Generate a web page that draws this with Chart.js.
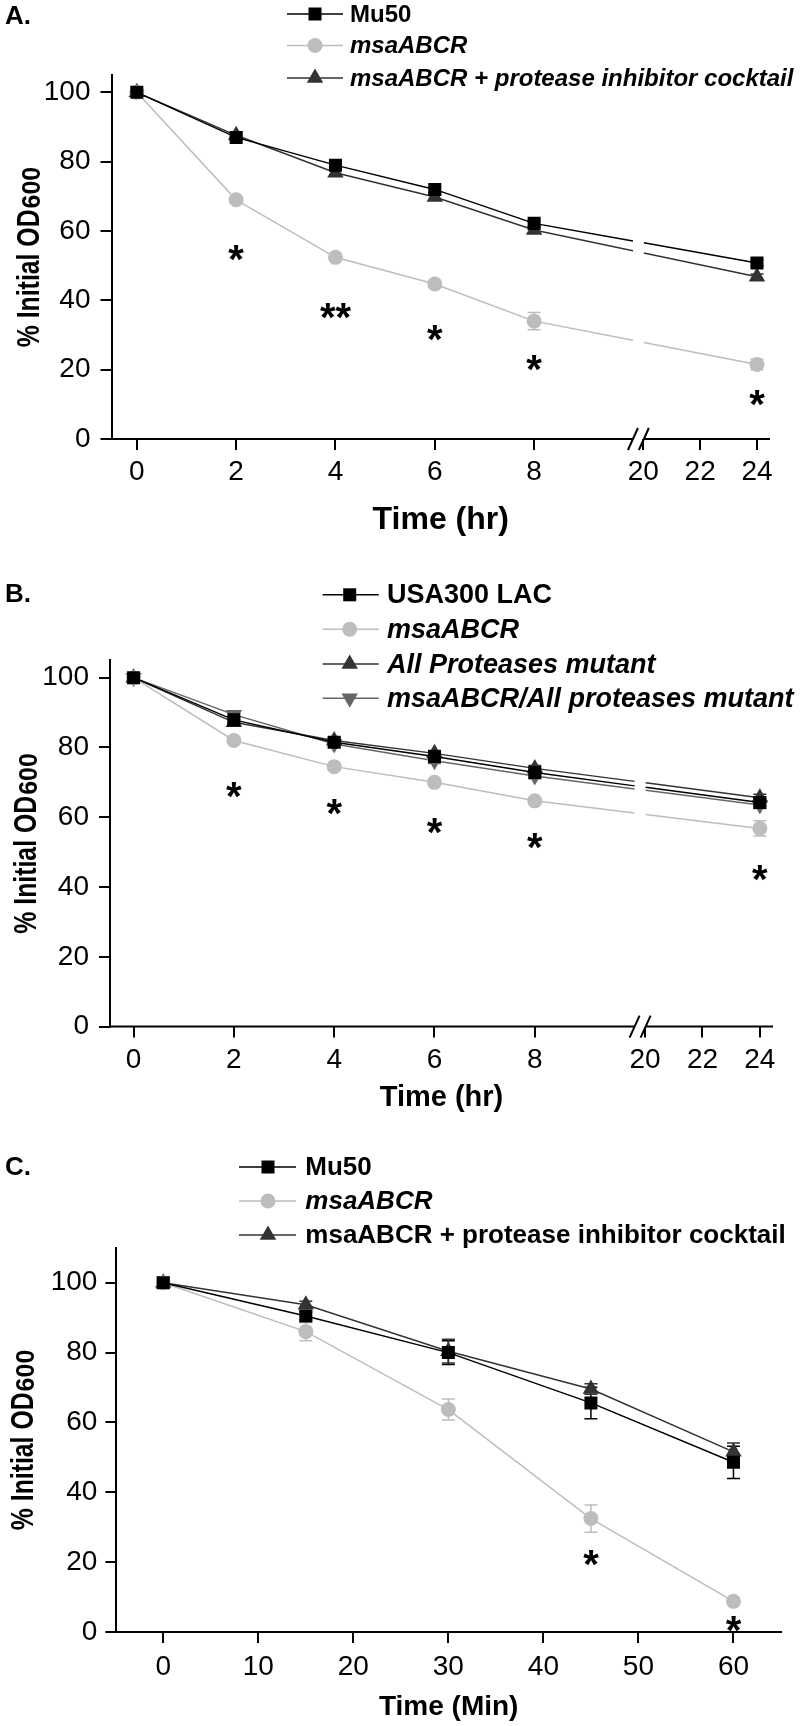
<!DOCTYPE html>
<html>
<head>
<meta charset="utf-8">
<title>% Initial OD600 over time</title>
<script src="https://cdn.jsdelivr.net/npm/chart.js@4.4.1/dist/chart.umd.min.js"></script>
<style>
  html, body { margin: 0; padding: 0; background: #ffffff; }
  body { width: 800px; height: 1726px; position: relative; overflow: hidden; }
  .panel { position: absolute; left: 0; width: 800px; }
  .panel canvas { display: block; }
</style>
</head>
<body>
<div class="panel" style="top:0px;height:560px"><canvas id="chartA"></canvas></div>
<div class="panel" style="top:560px;height:580px"><canvas id="chartB"></canvas></div>
<div class="panel" style="top:1140px;height:586px"><canvas id="chartC"></canvas></div>
<script>
// ================= DATA =================
// Panel A : Mu50 background, time in hours
const hoursA = [0, 2, 4, 6, 8, 24];
const tickHoursA = [0, 2, 4, 6, 8, 20, 22, 24];
const yTicksA = [0, 20, 40, 60, 80, 100];
const seriesNamesA = ['Mu50', 'msaABCR', 'msaABCR + protease inhibitor cocktail'];
const mu50A = [100, 87, 79, 72, 62.2, 50.8];
const mu50AErr = [0.6, 0.8, 0.8, 0.8, 0.8, 0.8];
const msaA = [100, 69, 52.4, 44.7, 34, 21.5];
const msaAErr = [0.6, 0.8, 0.8, 1, 2.5, 1.5];
const msaInhA = [100, 87.6, 76.8, 69.8, 60.3, 46.8];
const msaInhAErr = [0.6, 0.8, 0.8, 0.8, 0.8, 0.8];
const sigHoursA = [2, 4, 6, 8, 24];
const sigValuesA = [53.7, 37, 30.5, 21.8, 11.9];
const sigLabelsA = ['*', '**', '*', '*', '*'];

// Panel B : USA300 LAC background, time in hours
const hoursB = [0, 2, 4, 6, 8, 24];
const tickHoursB = [0, 2, 4, 6, 8, 20, 22, 24];
const yTicksB = [0, 20, 40, 60, 80, 100];
const seriesNamesB = ['USA300 LAC', 'msaABCR', 'All Proteases mutant', 'msaABCR/All proteases mutant'];
const usaB = [100, 87.9, 81.5, 77.4, 72.8, 64.2];
const usaBErr = [0.6, 0.8, 0.8, 0.8, 0.8, 1];
const msaB = [100, 82, 74.5, 70, 64.7, 56.8];
const msaBErr = [0.6, 1, 0.8, 0.8, 0.8, 2.2];
const allProtB = [100, 87.2, 82, 78.3, 74, 65.6];
const allProtBErr = [0.6, 0.8, 0.8, 0.8, 0.8, 1];
const msaAllProtB = [100, 89.4, 81, 76.2, 71.8, 63.5];
const msaAllProtBErr = [0.6, 0.8, 0.8, 0.8, 0.8, 1];
const sigHoursB = [2, 4, 6, 8, 24];
const sigValuesB = [67.9, 62.8, 57.6, 53.2, 44];
const sigLabelsB = ['*', '*', '*', '*', '*'];

// Panel C : Mu50 background, time in minutes
const minutesC = [0, 15, 30, 45, 60];
const xTicksC = [0, 10, 20, 30, 40, 50, 60];
const yTicksC = [0, 20, 40, 60, 80, 100];
const seriesNamesC = ['Mu50', 'msaABCR', 'msaABCR + protease inhibitor cocktail'];
const mu50C = [100, 90.5, 80, 65.6, 48.6];
const mu50CErr = [1.5, 1.2, 3.4, 4.5, 4.6];
const msaC = [100, 86, 63.7, 32.5, 8.8];
const msaCErr = [1, 2.6, 3, 3.9, 1];
const msaInhC = [100, 93.7, 80.4, 69.6, 51.6];
const msaInhCErr = [1, 1, 3.4, 1.5, 2.5];
const sigMinutesC = [45, 60];
const sigValuesC = [21.3, 2.2];
const sigLabelsC = ['*', '*'];

// ================= HELPERS =================
const FONT = '"Liberation Sans", Arial, Helvetica, sans-serif';
Chart.defaults.font.family = FONT;
Chart.defaults.color = '#000';

const BLACK = '#000000', LIGHT = '#bdbdbd', DARK = '#333333', MID = '#666666';

// broken hour axis: 0-8 h at full scale, 20-24 h compressed after the break
function hourToAxis(h) { return h <= 8 ? h : 10.2 + (h - 20) * 0.572; }
const HOUR_BREAK = [9.99, 10.21];

function gapDash(gap, xs) {
  return (ctx) => {
    const chart = ctx.chart;
    if (!chart || !ctx.p0 || !ctx.p1) return [];
    const a = xs[ctx.p0DataIndex], b = xs[ctx.p1DataIndex];
    if (!(a < gap[0] && b > gap[1])) return [];
    const p0 = ctx.p0, p1 = ctx.p1;
    const dx = p1.x - p0.x, dy = p1.y - p0.y;
    const len = Math.hypot(dx, dy);
    const sx = chart.scales.x;
    const g0 = (sx.getPixelForValue(gap[0]) - p0.x) / dx * len;
    const g1 = (sx.getPixelForValue(gap[1]) - p0.x) / dx * len;
    return [g0, g1 - g0, len + 20];
  };
}

function makeSeries(label, xs, ys, errs, st, gap) {
  const ds = {
    label: label,
    data: xs.map((x, i) => ({ x: x, y: ys[i] })),
    errors: errs,
    borderColor: st.line,
    backgroundColor: st.fill,
    pointBackgroundColor: st.fill,
    pointBorderColor: st.fill,
    pointBorderWidth: 0,
    pointStyle: st.shape,
    pointRotation: st.rotation || 0,
    pointRadius: st.radius,
    pointHoverRadius: st.radius,
    borderWidth: st.width,
    tension: 0,
    fill: false,
    legendItalic: st.italic
  };
  if (gap) ds.segment = { borderDash: gapDash(gap, xs) };
  return ds;
}

const errorBarPlugin = {
  id: 'errorBars',
  beforeDatasetsDraw(chart) {
    const ctx = chart.ctx, ys = chart.scales.y;
    chart.data.datasets.forEach((ds, di) => {
      if (!ds.errors) return;
      const meta = chart.getDatasetMeta(di);
      ctx.save();
      ctx.strokeStyle = ds.borderColor;
      ctx.lineWidth = 1.5;
      meta.data.forEach((pt, i) => {
        const e = ds.errors[i];
        if (!e) return;
        const v = ds.data[i].y;
        const top = ys.getPixelForValue(v + e), bot = ys.getPixelForValue(v - e);
        const cap = 6.5;
        ctx.beginPath();
        ctx.moveTo(pt.x, top); ctx.lineTo(pt.x, bot);
        ctx.moveTo(pt.x - cap, top); ctx.lineTo(pt.x + cap, top);
        ctx.moveTo(pt.x - cap, bot); ctx.lineTo(pt.x + cap, bot);
        ctx.stroke();
      });
      ctx.restore();
    });
  }
};

function drawMarker(ctx, ds, x, y) {
  ctx.fillStyle = ds.pointBackgroundColor;
  ctx.strokeStyle = ds.pointBackgroundColor;
  if (Chart.helpers && Chart.helpers.drawPoint) {
    Chart.helpers.drawPoint(ctx, { pointStyle: ds.pointStyle, rotation: ds.pointRotation, radius: ds.pointRadius, borderWidth: 0 }, x, y);
  }
}

function decorPlugin(spec) {
  return {
    id: 'decor',
    afterDraw(chart) {
      const ctx = chart.ctx, area = chart.chartArea;
      const xs = chart.scales.x, ys = chart.scales.y;
      ctx.save();
      ctx.fillStyle = '#000';
      // panel letter
      ctx.font = 'bold ' + spec.letterSize + 'px ' + FONT;
      ctx.textAlign = 'left';
      ctx.textBaseline = 'middle';
      ctx.fillText(spec.letter, spec.letterX, spec.letterY);

      // legend
      const L = spec.legend;
      chart.data.datasets.forEach((ds, di) => {
        const y = L.rows[di];
        ctx.strokeStyle = ds.borderColor;
        ctx.lineWidth = ds.borderWidth;
        ctx.setLineDash([]);
        ctx.beginPath();
        ctx.moveTo(L.x0, y); ctx.lineTo(L.x1, y);
        ctx.stroke();
        drawMarker(ctx, ds, L.mx, y);
        ctx.fillStyle = '#000';
        ctx.font = (ds.legendItalic ? 'italic ' : '') + 'bold ' + L.size + 'px ' + FONT;
        ctx.textAlign = 'left';
        ctx.textBaseline = 'middle';
        ctx.fillText(ds.label, L.tx, y + 1);
      });

      // y-axis title with subscript (main part slightly condensed)
      const T = spec.yTitle;
      ctx.save();
      ctx.translate(T.baseX, (area.top + area.bottom) / 2);
      ctx.rotate(-Math.PI / 2);
      ctx.fillStyle = '#000';
      ctx.textBaseline = 'alphabetic';
      ctx.textAlign = 'left';
      ctx.font = 'bold ' + T.size + 'px ' + FONT;
      const w1 = ctx.measureText(T.main).width * T.squeeze;
      ctx.font = 'bold ' + T.subSize + 'px ' + FONT;
      const w2 = ctx.measureText(T.sub).width;
      const start = -(w1 + w2 + 1) / 2;
      ctx.save();
      ctx.translate(start, 0);
      ctx.scale(T.squeeze, 1);
      ctx.font = 'bold ' + T.size + 'px ' + FONT;
      ctx.fillText(T.main, 0, 0);
      ctx.restore();
      ctx.font = 'bold ' + T.subSize + 'px ' + FONT;
      ctx.fillText(T.sub, start + w1 + 1, T.subDrop);
      ctx.restore();

      // broken x axis line
      if (spec.xBreak) {
        const y0 = area.bottom;
        const b0 = xs.getPixelForValue(spec.xBreak[0]);
        const b1 = xs.getPixelForValue(spec.xBreak[1]);
        ctx.strokeStyle = '#000';
        ctx.lineWidth = 2;
        ctx.beginPath();
        ctx.moveTo(area.left - 1, y0); ctx.lineTo(b0, y0);
        ctx.moveTo(b1, y0); ctx.lineTo(area.right, y0);
        [b0, b1].forEach((bx) => { ctx.moveTo(bx - 5, y0 + 11); ctx.lineTo(bx + 5, y0 - 11); });
        ctx.stroke();
      }

      // significance asterisks
      const S = spec.sig;
      ctx.fillStyle = '#000';
      ctx.font = 'bold ' + S.size + 'px ' + FONT;
      ctx.textAlign = 'center';
      ctx.textBaseline = 'alphabetic';
      S.xs.forEach((xv, i) => {
        const px = xs.getPixelForValue(xv), py = ys.getPixelForValue(S.ys[i]);
        const m = ctx.measureText(S.labels[i]);
        const asc = m.actualBoundingBoxAscent || S.size * 0.7;
        const desc = m.actualBoundingBoxDescent || -S.size * 0.35;
        ctx.fillText(S.labels[i], px, py + (asc - desc) / 2);
      });
      ctx.restore();
    }
  };
}

function buildChart(canvasId, p, datasets, spec) {
  return new Chart(document.getElementById(canvasId), {
    type: 'line',
    data: { datasets: datasets },
    options: {
      responsive: true,
      maintainAspectRatio: false,
      animation: false,
      events: [],
      layout: { padding: { top: p.padTop, right: p.padRight, bottom: 0, left: 0 } },
      plugins: { legend: { display: false }, tooltip: { enabled: false }, title: { display: false } },
      scales: {
        x: {
          type: 'linear',
          min: p.xMin, max: p.xMax,
          afterFit: (s) => { s.height = p.xAxisHeight; },
          afterBuildTicks: (s) => { s.ticks = p.xTickValues.map((v) => ({ value: v })); },
          ticks: {
            callback: (v, i) => String(p.xTickLabels[i]),
            font: { size: 28 }, color: '#000', padding: p.xTickPad,
            autoSkip: false, maxRotation: 0, minRotation: 0
          },
          grid: { display: true, drawOnChartArea: false, drawTicks: true, tickLength: 11, tickWidth: 2, tickColor: '#000', color: '#000', lineWidth: 2 },
          border: { display: !p.xBreak, color: '#000', width: 2 },
          title: { display: true, text: p.xTitle, color: '#000', font: { size: p.xTitleSize, weight: 'bold' }, padding: { top: 0, bottom: p.xTitlePadBottom } }
        },
        y: {
          type: 'linear',
          min: 0, max: p.yMax,
          afterFit: (s) => { s.width = p.yAxisWidth; },
          afterBuildTicks: (s) => { s.ticks = p.yTickValues.map((v) => ({ value: v })); },
          ticks: { font: { size: 28 }, color: '#000', padding: p.yTickPad },
          grid: { display: true, drawOnChartArea: false, drawTicks: true, tickLength: 11, tickWidth: 2, tickColor: '#000', color: '#000', lineWidth: 2 },
          border: { display: true, color: '#000', width: 2 },
          title: { display: false }
        }
      }
    },
    plugins: [errorBarPlugin, decorPlugin(spec)]
  });
}

// ================= PANEL A =================
const axHoursA = hoursA.map(hourToAxis);
buildChart('chartA', {
  padTop: 75, padRight: 30, xAxisHeight: 121, yAxisWidth: 111.5,
  xMin: -0.51, xMax: 12.75, yMax: 105,
  xTickValues: tickHoursA.map(hourToAxis), xTickLabels: tickHoursA,
  yTickValues: yTicksA, xTickPad: 5, yTickPad: 10,
  xTitle: 'Time (hr)', xTitleSize: 32, xTitlePadBottom: 20.5, xBreak: HOUR_BREAK
}, [
  makeSeries(seriesNamesA[0], axHoursA, mu50A, mu50AErr, { line: BLACK, fill: BLACK, shape: 'rect', radius: 9.2, width: 1.5, italic: false }, HOUR_BREAK),
  makeSeries(seriesNamesA[1], axHoursA, msaA, msaAErr, { line: LIGHT, fill: LIGHT, shape: 'circle', radius: 7.5, width: 1.5, italic: true }, HOUR_BREAK),
  makeSeries(seriesNamesA[2], axHoursA, msaInhA, msaInhAErr, { line: DARK, fill: DARK, shape: 'triangle', radius: 9.5, width: 1.5, italic: true }, HOUR_BREAK)
], {
  letter: 'A.', letterSize: 26, letterX: 5, letterY: 17,
  legend: { x0: 287, x1: 343, mx: 315, tx: 350, size: 24, rows: [14, 45.5, 78] },
  yTitle: { main: '% Initial OD', sub: '600', size: 31, squeeze: 0.8, subSize: 25, subDrop: 1, baseX: 38.5 },
  xBreak: HOUR_BREAK,
  sig: { xs: sigHoursA.map(hourToAxis), ys: sigValuesA, labels: sigLabelsA, size: 40 }
});

// ================= PANEL B =================
const axHoursB = hoursB.map(hourToAxis);
buildChart('chartB', {
  padTop: 100.2, padRight: 27, xAxisHeight: 113.4, yAxisWidth: 110,
  xMin: -0.47, xMax: 12.75, yMax: 105,
  xTickValues: tickHoursB.map(hourToAxis), xTickLabels: tickHoursB,
  yTickValues: yTicksB, xTickPad: 5.5, yTickPad: 10,
  xTitle: 'Time (hr)', xTitleSize: 29, xTitlePadBottom: 24.5, xBreak: HOUR_BREAK
}, [
  makeSeries(seriesNamesB[0], axHoursB, usaB, usaBErr, { line: BLACK, fill: BLACK, shape: 'rect', radius: 9.2, width: 1.5, italic: false }, HOUR_BREAK),
  makeSeries(seriesNamesB[1], axHoursB, msaB, msaBErr, { line: LIGHT, fill: LIGHT, shape: 'circle', radius: 7.5, width: 1.5, italic: true }, HOUR_BREAK),
  makeSeries(seriesNamesB[2], axHoursB, allProtB, allProtBErr, { line: DARK, fill: DARK, shape: 'triangle', radius: 9.5, width: 1.5, italic: true }, HOUR_BREAK),
  makeSeries(seriesNamesB[3], axHoursB, msaAllProtB, msaAllProtBErr, { line: MID, fill: MID, shape: 'triangle', rotation: 180, radius: 9.5, width: 1.5, italic: true }, HOUR_BREAK)
], {
  letter: 'B.', letterSize: 26, letterX: 5, letterY: 35,
  legend: { x0: 322.6, x1: 378.8, mx: 349.7, tx: 387, size: 27, rows: [34.8, 69.3, 104.1, 138.2] },
  yTitle: { main: '% Initial OD', sub: '600', size: 31, squeeze: 0.8, subSize: 25, subDrop: 1, baseX: 36 },
  xBreak: HOUR_BREAK,
  sig: { xs: sigHoursB.map(hourToAxis), ys: sigValuesB, labels: sigLabelsB, size: 40 }
});

// ================= PANEL C =================
buildChart('chartC', {
  padTop: 107.8, padRight: 19, xAxisHeight: 93.9, yAxisWidth: 116.4,
  xMin: -4.93, xMax: 65, yMax: 110,
  xTickValues: xTicksC, xTickLabels: xTicksC,
  yTickValues: yTicksC, xTickPad: 7.5, yTickPad: 8,
  xTitle: 'Time (Min)', xTitleSize: 28, xTitlePadBottom: 2, xBreak: null
}, [
  makeSeries(seriesNamesC[0], minutesC, mu50C, mu50CErr, { line: BLACK, fill: BLACK, shape: 'rect', radius: 9.2, width: 1.5, italic: false }, null),
  makeSeries(seriesNamesC[1], minutesC, msaC, msaCErr, { line: LIGHT, fill: LIGHT, shape: 'circle', radius: 7.5, width: 1.5, italic: true }, null),
  makeSeries(seriesNamesC[2], minutesC, msaInhC, msaInhCErr, { line: DARK, fill: DARK, shape: 'triangle', radius: 9.5, width: 1.5, italic: false }, null)
], {
  letter: 'C.', letterSize: 26, letterX: 5, letterY: 28,
  legend: { x0: 239, x1: 296, mx: 268, tx: 305.3, size: 26, rows: [27, 61, 95] },
  yTitle: { main: '% Initial OD', sub: '600', size: 31, squeeze: 0.8, subSize: 25, subDrop: 1, baseX: 33 },
  xBreak: null,
  sig: { xs: sigMinutesC, ys: sigValuesC, labels: sigLabelsC, size: 40 }
});
</script>
</body>
</html>
